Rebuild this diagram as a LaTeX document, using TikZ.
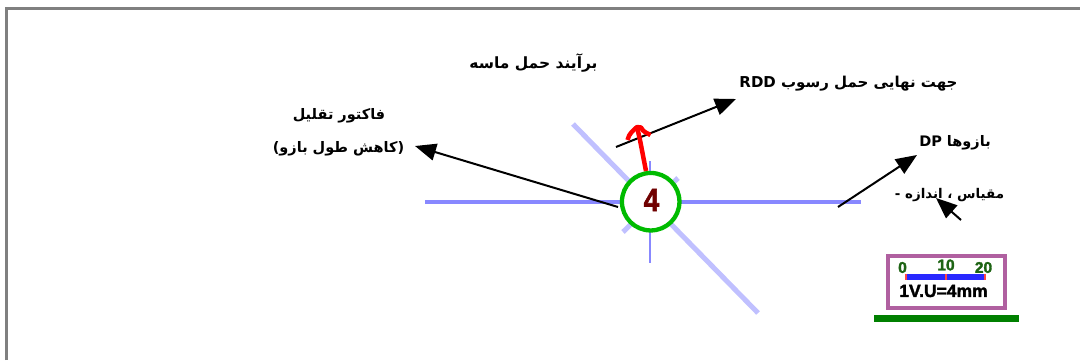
\documentclass[tikz,border=0pt]{standalone}
\usepackage{fontspec}
\usetikzlibrary{arrows.meta}
\newfontfamily\farsi[Script=Arabic]{DejaVu Sans}
\setmainfont{Liberation Sans}
\newfontfamily\blocky[FakeBold=2,BoldFont={Liberation Sans Bold}]{Liberation Sans Bold}
\TeXXeTstate=1
\tikzset{
  x=1pt,y=-1pt,
  lbl/.style={inner sep=0pt,font=\farsi\bfseries\fontsize{14.5}{16}\selectfont,text=black},
  pointer/.style={draw=black,line width=2pt,-{Triangle[length=21pt,width=17pt]}},
  spoke/.style={draw=spokeblue,line width=4pt},
  spokethin/.style={draw=spokeblue,line width=2pt},
  diag/.style={draw=spokepale,line width=5pt},
  dark/.style={inner sep=0pt,text=tickgreen,font=\blocky\fontsize{15.5}{16}\selectfont},
  resultant/.style={draw=red,line width=4.5pt,line join=round},
}
\definecolor{spokeblue}{RGB}{136,136,255}
\definecolor{spokepale}{RGB}{192,192,255}
\definecolor{ringgreen}{RGB}{0,187,0}
\definecolor{framegray}{RGB}{128,128,128}
\definecolor{tickgreen}{RGB}{30,100,20}
\definecolor{boxpurple}{RGB}{176,96,160}
\definecolor{barblue}{RGB}{40,40,255}
\definecolor{tickred}{RGB}{255,70,70}
\definecolor{basegreen}{RGB}{0,128,0}
\definecolor{numred}{RGB}{112,0,0}
\begin{document}
\begin{tikzpicture}
\useasboundingbox (0,0) rectangle (1080,360);
\fill[white] (0,0) rectangle (1080,360);
\draw[framegray,line width=3.4pt] (6.3,360) -- (6.3,8.5) -- (1080,8.5);

% spokes
\coordinate (dA) at (573,124);
\coordinate (dB) at (758,313);
\draw[diag] (dA) -- (dB);
\coordinate (eA) at (623,232);
\coordinate (eB) at (678,178);
\draw[diag] (eA) -- (eB);
\coordinate (hA) at (425,202);
\coordinate (hB) at (861,202);
\draw[spoke] (hA) -- (hB);
\coordinate (vA) at (650,161);
\coordinate (vB) at (650,263);
\draw[spokethin] (vA) -- (vB);

% pointers under the hub
\coordinate (p1s) at (616,147);
\coordinate (p1e) at (736,99);
\draw[pointer] (p1s) -- (p1e);
\coordinate (p2s) at (618,207);
\coordinate (p2e) at (415,146);
\draw[pointer] (p2s) -- (p2e);
\coordinate (p3s) at (838,207);
\coordinate (p3e) at (917,155);
\draw[pointer] (p3s) -- (p3e);
\coordinate (p4s) at (961,220);
\coordinate (p4e) at (936,198);

% centre
\node[circle,draw=ringgreen,line width=4.3pt,fill=white,minimum size=57.5pt,inner sep=0pt] (hub) at (650.7,201.7) {};
\node[inner sep=0pt,text=numred,xscale=.88,font=\blocky\fontsize{32}{32}\selectfont] (num) at (651.5,200) {4};

% red resultant
\coordinate (rS) at (646,171);
\coordinate (rT) at (637,127);
\draw[resultant] (rS) -- (640,140) -- (rT);
\draw[resultant] (627.5,140) .. controls (629,133) and (634,130) .. (rT) -- (641,127.5) .. controls (643,132) and (647,133) .. (650.5,135);

% labels
\node[lbl,font=\farsi\bfseries\fontsize{15.5}{17}\selectfont] (t1) at (533.5,63) {\beginR برآیند حمل ماسه\endR};
\node[lbl,font=\farsi\bfseries\fontsize{15}{17}\selectfont] (t2) at (848.5,84) {\beginR جهت نهایی حمل رسوب \beginL RDD\endL\endR};
\node[lbl] (t3) at (339,116) {\beginR فاکتور تقلیل\endR};
\node[lbl] (t4) at (338.5,149) {\beginR (کاهش طول بازو)\endR};
\node[lbl] (t5) at (955,143) {\beginR بازوها \beginL DP\endL\endR};
\node[lbl,font=\farsi\bfseries\fontsize{13.4}{16}\selectfont] (t6) at (949.5,195) {\beginR مقیاس ، اندازه -\endR};
\draw[pointer] (p4s) -- (p4e);

% scale box
\node[draw=boxpurple,line width=3.6pt,minimum width=117pt,minimum height=52pt,inner sep=0pt] (box) at (946.5,282) {};
\coordinate (b0) at (906,277);
\coordinate (b1) at (946,277);
\coordinate (b2) at (985,277);
\draw[barblue,line width=6pt] (b0) -- (b2);
\draw[tickred,line width=2pt] (b0)+(0,-3) -- +(0,3);
\draw[tickred,line width=2.5pt] (b1)+(0,-3) -- +(0,3);
\draw[tickred,line width=2pt] (b2)+(0,-3) -- +(0,3);
\node[dark] (n0) at (902.5,267.5) {0};
\node[dark] (n1) at (946,265) {10};
\node[dark] (n2) at (983.5,267.5) {20};
\node[inner sep=0pt,font=\blocky\fontsize{17.5}{18}\selectfont] (cap) at (943.5,291) {1V.U=4mm};
\fill[basegreen] (874,315) rectangle (1019,322);
\end{tikzpicture}
\end{document}
